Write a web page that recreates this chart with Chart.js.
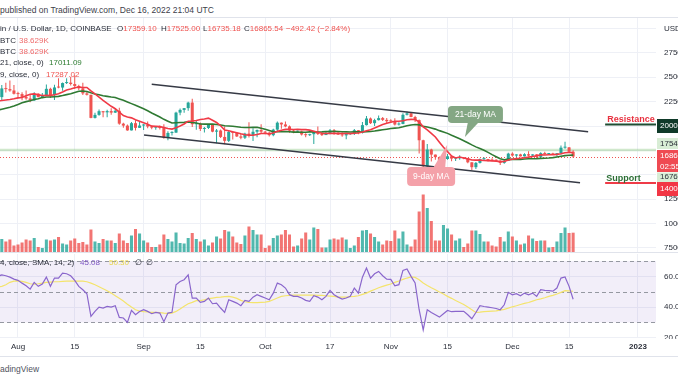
<!DOCTYPE html>
<html><head><meta charset="utf-8">
<script src="https://cdn.jsdelivr.net/npm/chart.js@4.4.1/dist/chart.umd.min.js"></script>
<style>
html,body{margin:0;padding:0;background:#fff;}
#wrap{position:relative;width:678px;height:381px;overflow:hidden;background:#fff;font-family:"Liberation Sans",Arial,sans-serif;}
#wrap canvas{position:absolute;left:0;}
.t{position:absolute;white-space:nowrap;line-height:10px;font-size:8px;color:#2a2e39;}
.hl{position:absolute;left:0;width:678px;height:1px;background:#e0e3eb;}
.r{color:#ef5350}.g{color:#2e7d32}
</style></head><body>
<div id="wrap">
 <div class="t" style="left:0;top:5px;font-size:8.5px;color:#3d404a">published on TradingView.com, Dec 16, 2022 21:04 UTC</div>
 <div class="hl" style="top:17px"></div>
 <canvas id="main" width="678" height="234" style="top:18px;width:678px;height:234px"></canvas>
 <div class="hl" style="top:252px"></div>
 <canvas id="rsi" width="678" height="102" style="top:254px;width:678px;height:102px"></canvas>
 <div class="hl" style="top:356px"></div>
 <div class="t" style="left:0;top:24px">in / U.S. Dollar, 1D, COINBASE</div>
 <div class="t" style="left:117px;top:24px">O<span class="r">17359.10</span></div>
 <div class="t" style="left:161px;top:24px">H<span class="r">17525.00</span></div>
 <div class="t" style="left:203px;top:24px">L<span class="r">16735.18</span></div>
 <div class="t" style="left:244px;top:24px">C<span class="r">16865.54</span></div>
 <div class="t r" style="left:286px;top:24px">−492.42 (−2.84%)</div>
 <div class="t" style="left:0;top:36px">BTC</div>
 <div class="t" style="left:19px;top:36px;color:#ef6b6b">38.629K</div>
 <div class="t" style="left:0;top:47px">BTC</div>
 <div class="t" style="left:19px;top:47px;color:#ef6b6b">38.629K</div>
 <div class="t" style="left:0;top:58px">21, close, 0)</div>
 <div class="t g" style="left:49px;top:58px">17011.09</div>
 <div class="t" style="left:0;top:70px">9, close, 0)</div>
 <div class="t r" style="left:46px;top:70px">17287.02</div>
 <div class="t" style="left:0;top:258px">4, close, SMA, 14, 2)</div>
 <div class="t" style="left:80px;top:258px;color:#7e57c2">45.08</div>
 <div class="t" style="left:109px;top:258px;color:#e8d64a">50.30</div>
 <div class="t" style="left:135px;top:258px">∅</div>
 <div class="t" style="left:146px;top:258px">∅</div>
 <div class="t" style="left:0;top:364px;font-size:8.5px;color:#50535e">adingView</div>
</div>
<script>
// ---- data (day index 0 = 2022-07-27, BTC/USD daily, Coinbase) ----
const firstDate = '2022-07-27';
const tickDays = [5,19,36,50,66,82,97,111,127,141,158];
const tickLabels = ['Aug','15','Sep','15','Oct','17','Nov','15','Dec','15','2023'];
const priceTicks = [7500,10000,12500,15000,17500,20000,22500,25000,27500,30000];
const rsiTicks = [20,40,60];
const rsiLevels = [30,50,70];

const open = [21240,22960,23850,23780,23640,23300,23270,22980,22820,22620,
23310,22960,23180,23810,23160,23950,23940,24400,24440,24300,
24100,23860,23340,23200,20830,21140,21520,21400,21530,21370,
21560,20240,20040,19550,20290,19810,20050,20130,19950,19830,
19990,19800,18790,19290,19320,21370,21650,21830,22400,20180,
20230,19700,19800,20110,19420,19540,18880,18480,19400,19290,
18930,18800,19220,19080,19410,19590,19420,19310,19060,19630,
20340,20160,19960,19530,19420,19440,19130,19060,19160,19380,
19180,19070,19270,19550,19330,19120,19040,19170,19210,19570,
19330,20090,20770,20290,20600,20810,20630,20490,20480,20150,
20210,21150,21300,20920,20600,18540,15880,17590,17070,16810,
16330,16620,16900,16660,16690,16700,16690,16280,15780,16220,
16600,16600,16520,16460,16440,16220,16440,17170,16970,17090,
16890,17110,16970,17090,16840,17220,17130,17130,17100,17210,
17780,17810,17359.10];
const high = [22990,24200,24440,24650,24190,23500,23460,23640,23220,23460,
23350,23390,24240,23920,24220,24900,24450,24890,25050,25210,
24230,24440,23590,23200,21370,21680,21520,21660,21810,21820,
21870,20330,20150,20400,20580,20480,20200,20450,20050,20000,
20050,20180,19460,19450,21450,21800,21850,22490,22800,20540,
20350,19900,20180,20110,19690,19640,19950,19500,19490,19320,
19190,19310,20380,19780,19630,20180,19480,19400,19720,20470,
20370,20450,20060,19620,19540,19520,19260,19210,19510,19950,
19220,19420,19680,19700,19350,19350,19250,19260,19690,19600,
20410,21020,20870,20750,21080,20930,20830,20700,20800,20390,
21300,21480,21360,21060,20670,18600,18160,17660,17070,16880,
17190,17130,16990,16740,17010,16820,16730,16280,16300,16680,
16800,16610,16690,16600,16490,16530,17250,17320,17100,17150,
17200,17420,17110,17140,17300,17360,17230,17270,17240,18000,
18390,17850,17525.00];
const low = [21050,22600,23420,23520,23230,22850,22650,22700,22440,22590,
22940,22860,23150,22880,22670,23880,23600,24300,24150,23790,
23690,23180,23120,20800,20780,21060,20890,20890,21160,21330,
20130,19820,19520,19540,19530,19800,19590,19780,19660,19610,
19640,18690,18540,19020,19300,21100,21360,21560,19890,19620,
19500,19330,19700,19370,18230,18760,18130,18360,18620,18880,
18630,18680,18820,18470,18840,19170,19160,18930,18960,19500,
19730,19860,19320,19250,19330,19030,18860,18980,18150,19070,
18980,19070,19160,19110,19080,18900,18650,19110,19070,19160,
19240,20060,20200,20000,20560,20520,20250,20340,20060,20040,
20180,21080,20890,20400,17170,15590,15760,16360,16550,16320,
15820,16540,16380,16410,16550,16590,16180,15480,15600,16170,
16460,16360,16400,16400,16000,16120,16430,16860,16790,16870,
16880,16870,16910,16690,16740,17060,17090,17070,16870,17090,
17660,17280,16735.18];
const close = [22960,23850,23780,23640,23300,23270,22980,22820,22620,23310,
22960,23180,23810,23160,23950,23940,24400,24440,24300,24100,
23860,23340,23200,20830,21140,21520,21400,21530,21370,21560,
20240,20040,19550,20290,19810,20050,20130,19950,19830,19990,
19800,18790,19290,19320,21370,21650,21830,22400,20180,20230,
19700,19800,20110,19420,19540,18880,18480,19400,19290,18930,
18800,19220,19080,19410,19590,19420,19310,19060,19630,20340,
20160,19960,19530,19420,19440,19130,19060,19160,19380,19180,
19070,19270,19550,19330,19120,19040,19170,19210,19570,19330,
20090,20770,20290,20600,20810,20630,20490,20480,20150,20210,
21150,21300,20920,20600,18540,15880,17590,17070,16810,16330,
16620,16900,16660,16690,16700,16690,16280,15780,16220,16600,
16600,16520,16460,16440,16220,16440,17170,16970,17090,16890,
17110,16970,17090,16840,17220,17130,17130,17100,17210,17780,
17810,17360,16865.54];
const volumeK = [24,
26,21,25,13,15,19,25,23,28,10,8,25,23,25,30,17,15,23,27,18,
20,15,45,21,18,26,23,23,18,37,23,18,33,46,37,23,19,10,10,15,
35,26,21,39,18,17,28,38,26,
21,25,13,19,31,27,44,41,31,19,16,33,51,44,35,35,8,13,28,33,
35,44,35,11,13,27,39,25,49,46,9,9,25,27,25,29,25,8,13,30,
43,44,37,30,21,15,23,22,
43,27,41,15,11,25,81,115,88,62,23,23,54,47,35,23,27,10,17,43,
43,36,21,21,13,11,30,21,41,31,23,15,17,33,27,22,23,23,9,10,
21,38,49,38,38.629];
const ma9 = [22556,22606,22667,22720,22789,22880,22924,23093,23247,23286,
23187,23120,23139,23123,23199,23306,23481,23683,23793,23920,
23996,23943,23948,23601,23290,22970,22632,22324,22021,21766,
21421,21070,20928,20833,20643,20493,20338,20180,19988,19960,
19933,19849,19738,19683,19830,19999,20208,20493,20514,20562,
20663,20720,20808,20591,20357,20029,19593,19507,19402,19317,
19206,19107,19069,19054,19133,19238,19228,19202,19280,19451,
19556,19653,19667,19648,19650,19630,19630,19578,19471,19362,
19263,19234,19249,19237,19236,19233,19234,19216,19259,19288,
19379,19514,19621,19786,19982,20144,20287,20388,20479,20492,
20534,20647,20682,20659,20427,19914,19593,19251,18873,18338,
17818,17371,16933,16728,16819,16719,16631,16517,16504,16502,
16469,16453,16428,16399,16347,16364,16519,16602,16657,16689,
16754,16811,16883,16952,17039,17034,17052,17053,17089,17163,
17257,17287,17287.02];
const ma21 = [21615,21721,21826,21924,22041,22199,22373,22497,22595,22713,
22797,22911,22977,22966,23000,23037,23119,23214,23296,23429,
23554,23572,23541,23400,23281,23197,23108,23039,22970,22919,
22773,22634,22461,22293,22134,21948,21767,21555,21335,21130,
20925,20684,20491,20306,20332,20356,20371,20419,20354,20300,
20211,20190,20194,20188,20152,20108,20033,19998,19967,19924,
19867,19840,19853,19859,19872,19779,19668,19536,19404,19412,
19408,19420,19408,19375,19376,19356,19365,19397,19396,19391,
19398,19420,19436,19448,19434,19408,19396,19391,19415,19401,
19389,19418,19434,19485,19551,19608,19672,19740,19787,19827,
19920,20027,20105,20155,20118,19963,19894,19794,19680,19526,
19397,19245,19049,18878,18692,18496,18289,18064,17861,17692,
17520,17300,17070,16856,16648,16548,16609,16580,16580,16584,
16621,16638,16647,16656,16681,16701,16722,16761,16830,16904,
16961,16998,17011.09];
const rsi = [60.0,
61.0,60.4,59.5,58.2,57.4,55.6,53.9,51.7,56.1,53.5,55.0,59.5,53.5,58.9,58.9,62.1,61.7,60.4,57.4,53.5,
51.3,48.7,34.0,37.2,40.0,39.4,40.5,40.0,40.9,33.3,32.9,30.1,37.9,35.1,37.2,38.3,37.2,35.7,36.6,36.1,
30.5,36.1,36.6,54.5,56.7,57.8,61.0,45.9,45.9,
43.1,43.7,45.9,42.2,42.6,39.4,36.6,44.8,43.7,42.6,40.9,44.4,43.7,46.5,48.1,47.0,45.9,44.8,49.1,55.6,
54.5,52.4,48.1,47.0,47.0,45.9,44.4,43.7,47.4,46.5,44.8,47.0,50.9,48.1,46.5,45.2,45.9,47.0,52.4,49.1,
59.5,65.4,58.9,61.7,63.2,60.4,58.2,58.0,
53.9,54.6,63.9,64.8,60.0,55.7,38.3,25.2,38.3,36.5,35.0,33.5,35.7,37.8,37.0,37.2,37.2,37.2,35.0,32.4,
36.5,40.9,40.4,40.0,39.6,39.1,38.3,41.5,49.6,48.0,48.7,47.4,49.1,48.0,49.1,47.0,51.3,50.9,50.7,50.4,
52.4,58.9,59.6,53.5,45.08];
const rsiSma = [53.0,
53.5,54.5,56.1,56.9,57.1,56.7,56.1,55.2,55.0,55.2,55.6,56.1,56.3,56.5,56.5,56.7,56.9,56.9,56.9,56.9,
56.9,56.5,55.6,54.5,53.2,51.9,50.6,49.1,47.4,45.7,43.9,41.9,40.0,38.3,37.4,37.0,36.8,36.6,36.6,36.4,
36.1,35.9,36.1,37.2,38.7,40.5,42.2,43.1,44.2,
44.2,44.8,45.5,45.9,46.3,46.5,46.8,47.0,46.5,45.7,44.4,43.5,43.1,42.9,42.9,43.1,43.3,43.7,44.8,45.9,
47.0,47.4,47.6,47.8,47.8,47.8,47.8,47.8,47.8,47.6,47.6,47.4,47.2,47.0,46.5,46.5,46.5,46.8,47.0,47.4,
48.3,49.1,50.4,51.5,52.6,53.5,54.3,55.0,
56.1,57.0,58.0,58.9,59.6,59.3,57.8,55.7,54.1,52.6,51.3,49.8,48.5,47.0,45.7,44.3,43.0,41.7,40.0,38.3,
36.5,36.7,37.0,37.2,37.4,37.6,38.0,38.5,39.3,40.2,40.9,41.7,42.4,43.0,43.9,44.8,45.4,46.1,47.0,47.6,
48.5,49.6,50.7,50.5,50.3];
// drawn trend channel: [day index, price]
const channelUpper = [[38.0,24273],[145.7,19416]];
const channelLower = [[36.1,19078],[143.7,14191]];
const resistanceLevel = 20000;
const supportLevel = 14000;
const markedLevel = 17540;

// ---- rendering ----
const FONT = '"Liberation Sans", Arial, sans-serif';
const UP = '#26a69a', DOWN = '#ef5350', GRID = '#eef0f6', TXT = '#2a2e39';
const X_MIN = 0.558, X_MAX = 162.45;
const isUp = close.map((c,i)=> c >= open[i]);
const pts = arr => arr.map((v,i)=>({x:i,y:v}));

function rr(ctx,x,y,w,h,r){ctx.beginPath();ctx.moveTo(x+r,y);ctx.lineTo(x+w-r,y);ctx.quadraticCurveTo(x+w,y,x+w,y+r);ctx.lineTo(x+w,y+h-r);ctx.quadraticCurveTo(x+w,y+h,x+w-r,y+h);ctx.lineTo(x+r,y+h);ctx.quadraticCurveTo(x,y+h,x,y+h-r);ctx.lineTo(x,y+r);ctx.quadraticCurveTo(x,y,x+r,y);ctx.closePath();}
function tag(ctx, top, h, fill, color, lines){
  ctx.fillStyle = fill; ctx.fillRect(657, top, 21, h);
  ctx.fillStyle = color; ctx.font = '8px '+FONT; ctx.textBaseline='middle'; ctx.textAlign='left';
  lines.forEach((t,k)=> ctx.fillText(t, 660, top + h*(2*k+1)/(2*lines.length)));
}
function callout(ctx, tx, ty, bx, by, bw, bh, base, fill, text){
  ctx.fillStyle = fill;
  rr(ctx,bx,by,bw,bh,4); ctx.fill();
  ctx.beginPath(); ctx.moveTo(base[0],base[1]); ctx.lineTo(base[2],base[3]); ctx.lineTo(tx,ty); ctx.closePath(); ctx.fill();
  ctx.fillStyle='#fff'; ctx.font='8.5px '+FONT; ctx.textAlign='center'; ctx.textBaseline='middle';
  ctx.fillText(text, bx+bw/2, by+bh/2+0.5);
}

const mainDecor = {
  id:'mainDecor',
  beforeDatasetsDraw(chart){
    const {ctx, chartArea:a, scales:{y}} = chart;
    ctx.save();
    let yy = Math.round(y.getPixelForValue(markedLevel));
    ctx.strokeStyle='rgba(120,190,110,0.35)'; ctx.lineWidth=2.5;
    ctx.beginPath(); ctx.moveTo(a.left,yy); ctx.lineTo(a.right,yy); ctx.stroke();
    yy = Math.round(y.getPixelForValue(close[close.length-1]))+0.5;
    ctx.strokeStyle='#ef5350'; ctx.lineWidth=1; ctx.setLineDash([1,2]);
    ctx.beginPath(); ctx.moveTo(a.left,yy); ctx.lineTo(a.right,yy); ctx.stroke();
    ctx.restore();
  },
  afterDatasetsDraw(chart){
    const {ctx, chartArea:a, scales:{x,y}} = chart;
    ctx.save();
    const x0 = x.getPixelForValue(149.9);
    // resistance
    let yr = y.getPixelForValue(resistanceLevel);
    ctx.strokeStyle='#1f4d33'; ctx.lineWidth=2;
    ctx.beginPath(); ctx.moveTo(x0,yr-1.5); ctx.lineTo(a.right,yr-1.5); ctx.stroke();
    ctx.font='bold 9px '+FONT; ctx.textAlign='left'; ctx.textBaseline='alphabetic';
    ctx.fillStyle='#e8313f'; ctx.fillText('Resistance', x0+2, yr-4);
    // support
    let ys = y.getPixelForValue(supportLevel);
    ctx.strokeStyle='#ef3b47'; ctx.lineWidth=2;
    ctx.beginPath(); ctx.moveTo(x0,ys-1.5); ctx.lineTo(a.right,ys-1.5); ctx.stroke();
    ctx.fillStyle='#2b6e35'; ctx.fillText('Support', x0+1, ys-4);
    // callouts
    const gx = x.getPixelForValue(115.3), gy = y.getPixelForValue(18873);
    callout(ctx, gx, gy, gx-17, gy-31, 55, 17, [gx+3,gy-15,gx+14,gy-15], '#84a784', '21-day MA');
    const px = x.getPixelForValue(110.9), py = y.getPixelForValue(18053);
    callout(ctx, px, py, px-40, py+22, 48, 19, [px-14,py+23,px-2,py+23], '#f4a1a9', '9-day MA');
    ctx.restore();
  },
  afterDraw(chart){
    const {ctx, scales:{y}} = chart;
    ctx.save();
    const yr = y.getPixelForValue(resistanceLevel);
    tag(ctx, yr-7, 14, '#0f3a29', '#fff', ['20000.00']);
    tag(ctx, 120, 11, '#d8edd5', TXT, ['17540.00']);
    tag(ctx, 132, 22, '#ef4a52', '#fff', ['16865.54','02:55:33']);
    tag(ctx, 154.5, 9.5, '#d8edd5', TXT, ['16765.00']);
    tag(ctx, 164, 14, '#f23645', '#fff', ['14000.00']);
    ctx.restore();
  }
};

new Chart(document.getElementById('main'), {
  type:'line',
  data:{datasets:[
    {type:'bar', data: pts(volumeK), yAxisID:'yv', backgroundColor: isUp.map(u=>u?'rgba(38,166,154,0.8)':'rgba(239,83,80,0.8)'), grouped:false, barPercentage:0.75, categoryPercentage:1, order:10},
    {type:'bar', data: high.map((h,i)=>({x:i,y:[low[i],h]})), yAxisID:'y', backgroundColor: isUp.map(u=>u?UP:DOWN), grouped:false, maxBarThickness:1, order:6},
    {type:'bar', data: open.map((o,i)=>({x:i,y:[o,close[i]]})), yAxisID:'y', backgroundColor: isUp.map(u=>u?UP:DOWN), grouped:false, barPercentage:0.75, categoryPercentage:1, minBarLength:1, order:5},
    {type:'line', data: pts(ma21), yAxisID:'y', borderColor:'#2f7a33', borderWidth:1.6, pointRadius:0, order:4},
    {type:'line', data: pts(ma9), yAxisID:'y', borderColor:'#f03a46', borderWidth:1.6, pointRadius:0, order:3},
    {type:'line', data: channelUpper.map(([d,p])=>({x:d,y:p})), yAxisID:'y', borderColor:'#363a45', borderWidth:1.6, pointRadius:0, order:1},
    {type:'line', data: channelLower.map(([d,p])=>({x:d,y:p})), yAxisID:'y', borderColor:'#363a45', borderWidth:1.6, pointRadius:0, order:1}
  ]},
  options:{
    responsive:false, animation:false, devicePixelRatio:1,
    layout:{padding:0},
    plugins:{legend:{display:false}, tooltip:{enabled:false}},
    scales:{
      x:{type:'linear', min:X_MIN, max:X_MAX, offset:false,
        afterBuildTicks: s=>{ s.ticks = tickDays.map(v=>({value:v})); },
        afterFit: s=>{ s.height=0; s.paddingLeft=0; s.paddingRight=0; },
        ticks:{display:false}, grid:{color:GRID, drawTicks:false, offset:false}, border:{display:false}},
      y:{position:'right', min:7090, max:31066,
        afterBuildTicks: s=>{ s.ticks = priceTicks.map(v=>({value:v})); },
        afterFit: s=>{ s.width=22; s.paddingTop=0; s.paddingBottom=0; },
        ticks:{padding:8, color:TXT, font:{size:8, family:FONT},
          callback: v => v===30000 ? 'USD' : ([15000,17500,20000].includes(v) ? '' : v.toFixed(2))},
        grid:{color:GRID, drawTicks:false}, border:{display:false}},
      yv:{display:false, min:0, max:468}
    }
  },
  plugins:[mainDecor]
});

const rsiDecor = {
  id:'rsiDecor',
  beforeDatasetsDraw(chart){
    const {ctx, chartArea:a, scales:{y}} = chart;
    ctx.save();
    const y70 = y.getPixelForValue(rsiLevels[2]), y30 = y.getPixelForValue(rsiLevels[0]);
    ctx.fillStyle='rgba(126,87,194,0.1)'; ctx.fillRect(a.left, y70, a.width, y30-y70);
    ctx.strokeStyle='#9598a1'; ctx.lineWidth=1; ctx.setLineDash([4,3]);
    rsiLevels.forEach(l=>{ const yy=Math.round(y.getPixelForValue(l))+0.5; ctx.beginPath(); ctx.moveTo(a.left,yy); ctx.lineTo(a.right,yy); ctx.stroke(); });
    ctx.restore();
  },
  afterDraw(chart){
    const {ctx, chartArea:a} = chart;
    ctx.save(); ctx.fillStyle='#fff'; ctx.fillRect(a.right, a.bottom+1, 40, 40); ctx.restore();
  }
};

new Chart(document.getElementById('rsi'), {
  type:'line',
  data:{datasets:[
    {data: pts(rsiSma), borderColor:'#f4e46c', borderWidth:1.2, pointRadius:0, order:2},
    {data: pts(rsi), borderColor:'#8a66cc', borderWidth:1.2, pointRadius:0, order:1}
  ]},
  options:{
    responsive:false, animation:false, devicePixelRatio:1,
    layout:{padding:0},
    plugins:{legend:{display:false}, tooltip:{enabled:false}},
    scales:{
      x:{type:'linear', min:X_MIN, max:X_MAX, offset:false,
        afterBuildTicks: s=>{ s.ticks = tickDays.map(v=>({value:v})); },
        afterFit: s=>{ s.height=18; s.paddingLeft=0; s.paddingRight=0; },
        ticks:{autoSkip:false, maxRotation:0, padding:4, color:TXT,
          font: c => ({size:8, family:FONT, weight: (c.tick && c.tick.value===158) ? 'bold' : 'normal'}),
          callback: (v,i) => tickLabels[i]},
        grid:{color:GRID, drawTicks:false}, border:{display:false}},
      y:{position:'right', min:19.9, max:74.55,
        afterBuildTicks: s=>{ s.ticks = rsiTicks.map(v=>({value:v})); },
        afterFit: s=>{ s.width=22; s.paddingTop=0; s.paddingBottom=0; },
        ticks:{padding:8, color:TXT, font:{size:8, family:FONT}, callback: v => v.toFixed(2)},
        grid:{color:GRID, drawTicks:false}, border:{display:false}}
    }
  },
  plugins:[rsiDecor]
});
</script>
</body></html>
